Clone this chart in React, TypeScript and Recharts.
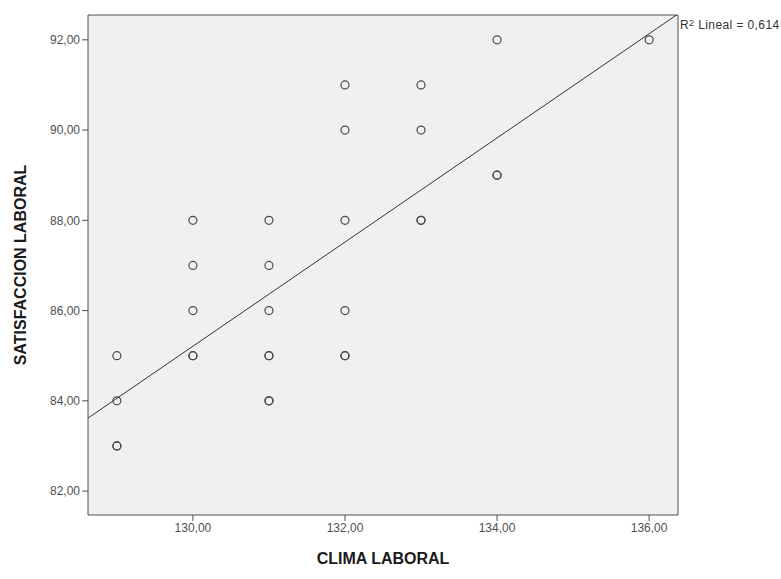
import React from 'react';
import {
  ScatterChart,
  Scatter,
  XAxis,
  YAxis,
  CartesianGrid,
  ReferenceLine,
  Label,
} from 'recharts';

// CLIMA LABORAL (x) vs SATISFACCION LABORAL (y); repeated pairs drawn darker
const clima = [
  129, 129, 129, 129,
  130, 130, 130, 130, 130,
  131, 131, 131, 131, 131, 131, 131,
  132, 132, 132, 132, 132, 132,
  133, 133, 133, 133,
  134, 134, 134,
  136,
];
const satisfaccion = [
  85, 84, 83, 83,
  88, 87, 86, 85, 85,
  88, 87, 86, 85, 85, 84, 84,
  91, 90, 88, 86, 85, 85,
  91, 90, 88, 88,
  92, 89, 89,
  92,
];

const xTicks = [130, 132, 134, 136];
const yTicks = [82, 84, 86, 88, 90, 92];
const xDomain = [128.62, 136.38];
const yDomain = [81.47, 92.55];

// linear fit: y = intercept + slope * x
const fitSlope = 1.154;
const fitIntercept = -64.81;
const rSquared = '0,614';

const data = clima.map((x, i) => ({ x, y: satisfaccion[i] }));
const fitAt = (x: number) => fitIntercept + fitSlope * x;

const fmt = (v: number) => v.toFixed(2).replace('.', ',');

const FONT = '"Liberation Sans", Arial, sans-serif';
const FRAME = '#4f4f4f';

const Ring = (props: any) => {
  const { cx, cy } = props;
  return <circle cx={cx} cy={cy} r={4} fill="none" stroke="#4a4a4a" strokeWidth={1.2} />;
};

const App: React.FC = () => {
  return (
    <div style={{ position: 'absolute', left: 0, top: 0, width: 781, height: 579, overflow: 'hidden', background: '#fff' }}>
      <ScatterChart width={781} height={579} margin={{ top: 15, right: 103, bottom: 0, left: 0 }}>
        <CartesianGrid horizontal={false} vertical={false} fill="#f0f0f0" fillOpacity={1} />
        <XAxis
          type="number"
          dataKey="x"
          domain={xDomain}
          allowDataOverflow
          ticks={xTicks}
          tickFormatter={fmt}
          height={64}
          stroke={FRAME}
          tickSize={6}
          tick={{ fill: '#505050', fontSize: 12, fontFamily: FONT }}
        >
          <Label
            content={(p: any) => {
              const vb = p.viewBox;
              return (
                <text
                  x={vb.x + vb.width / 2}
                  y={vb.y + 43}
                  textAnchor="middle"
                  dominantBaseline="central"
                  fontFamily={FONT}
                  fontWeight="bold"
                  fontSize={16}
                  fill="#1a1a1a"
                >
                  CLIMA LABORAL
                </text>
              );
            }}
          />
        </XAxis>
        <YAxis
          type="number"
          dataKey="y"
          domain={yDomain}
          allowDataOverflow
          ticks={yTicks}
          tickFormatter={fmt}
          width={88}
          stroke={FRAME}
          tickSize={6}
          tick={{ fill: '#505050', fontSize: 12, fontFamily: FONT }}
        >
          <Label
            content={(p: any) => {
              const vb = p.viewBox;
              const cx = vb.x + 20;
              const cy = vb.y + vb.height / 2;
              return (
                <text
                  x={cx}
                  y={cy}
                  transform={`rotate(-90, ${cx}, ${cy})`}
                  textAnchor="middle"
                  dominantBaseline="central"
                  fontFamily={FONT}
                  fontWeight="bold"
                  fontSize={16}
                  fill="#1a1a1a"
                >
                  SATISFACCION LABORAL
                </text>
              );
            }}
          />
        </YAxis>
        <ReferenceLine y={yDomain[1]} stroke={FRAME} />
        <ReferenceLine x={xDomain[1]} stroke={FRAME} />
        <ReferenceLine
          segment={[
            { x: xDomain[0], y: fitAt(xDomain[0]) },
            { x: xDomain[1], y: fitAt(xDomain[1]) },
          ]}
          stroke="#333"
          strokeWidth={1}
          ifOverflow="hidden"
        />
        <Scatter data={data} shape={<Ring />} isAnimationActive={false} />
      </ScatterChart>
      <div
        style={{
          position: 'absolute',
          left: 680,
          top: 19,
          fontFamily: FONT,
          fontSize: 12,
          letterSpacing: 0.4,
          color: '#333',
          whiteSpace: 'nowrap',
          lineHeight: '13px',
        }}
      >
        R<sup style={{ fontSize: 9, verticalAlign: 'top', lineHeight: '9px' }}>2</sup> Lineal = {rSquared}
      </div>
    </div>
  );
};

export default App;
